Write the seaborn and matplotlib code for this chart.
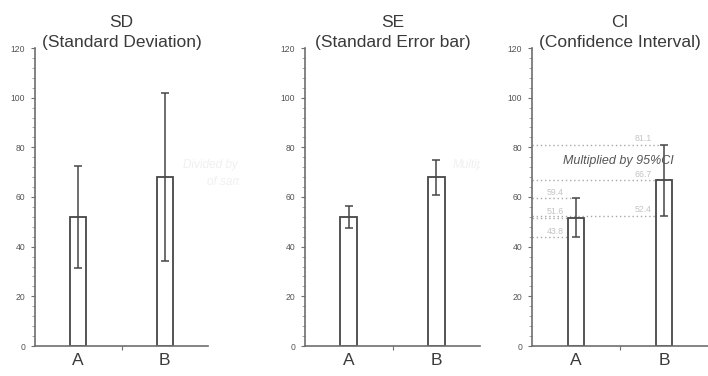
import numpy as np
import pandas as pd
import matplotlib
matplotlib.use("Agg")
import matplotlib.pyplot as plt
from matplotlib.ticker import MultipleLocator
from matplotlib.transforms import Bbox
import seaborn as sns

# data
categories = ["A", "B"]
means = [52.0, 68.0]
sd_err = [20.6, 33.7]
se_err = [4.3, 7.0]
ci_mean = [51.6, 66.7]
ci_low = [43.8, 52.4]
ci_high = [59.4, 81.1]
titles = ["SD\n(Standard Deviation)", "SE\n(Standard Error bar)", "CI\n(Confidence Interval)"]
ci_note = "Multiplied by 95%CI"

sns.set_theme(style="white")
plt.rcParams["font.family"] = ["Liberation Sans", "DejaVu Sans"]

EDGE = "#474747"
AXIS = "#6e6e6e"
TXT = "#3a3a3a"

fig = plt.figure(figsize=(7.08, 3.76), dpi=100)
boxes = [
    [35 / 708, 30 / 376, 173 / 708, 298 / 376],
    [305 / 708, 30 / 376, 175 / 708, 298 / 376],
    [532 / 708, 30 / 376, 176 / 708, 298 / 376],
]


def style_axis(ax, title):
    ax.set_xlim(-0.5, 1.5)
    ax.set_ylim(0, 120)
    sns.despine(ax=ax)
    for side in ["left", "bottom"]:
        ax.spines[side].set_color(AXIS)
        ax.spines[side].set_linewidth(1.2)
    ax.yaxis.set_major_locator(MultipleLocator(20))
    ax.yaxis.set_minor_locator(MultipleLocator(4))
    ax.tick_params(axis="y", which="major", direction="out", length=3, width=0.8,
                   color=AXIS, labelsize=6.2, labelcolor="#555555", pad=4, left=True)
    ax.tick_params(axis="y", which="minor", direction="out", length=2, width=0.6,
                   color="#999999", left=True)
    ax.set_xticks([0, 1])
    ax.set_xticklabels(categories)
    ax.set_xticks([0.5], minor=True)
    ax.tick_params(axis="x", which="major", length=0, labelsize=12.5,
                   labelcolor=TXT, pad=5)
    ax.tick_params(axis="x", which="minor", direction="out", length=3, width=0.8,
                   color=AXIS, bottom=True)
    ax.set_xlabel("")
    ax.set_ylabel("")
    ax.set_title(title, fontsize=12.5, color=TXT, pad=1.0, linespacing=1.4)


def draw_bars(ax, vals, err):
    sns.barplot(x=categories, y=vals, ax=ax, color="white", saturation=1,
                edgecolor=EDGE, linewidth=1.3, width=0.19, errorbar=None)
    ax.errorbar(np.arange(len(categories)), vals, yerr=err, fmt="none",
                ecolor=EDGE, elinewidth=1.1, capsize=2.8, capthick=1.1)


# SD panel
ax1 = fig.add_axes(boxes[0])
draw_bars(ax1, means, sd_err)
style_axis(ax1, titles[0])

# SE panel
ax2 = fig.add_axes(boxes[1])
draw_bars(ax2, means, se_err)
style_axis(ax2, titles[1])

# CI panel
ax3 = fig.add_axes(boxes[2])
ci_df = pd.DataFrame({"cat": categories, "mean": ci_mean, "low": ci_low, "high": ci_high})
yerr = np.vstack([ci_df["mean"] - ci_df["low"], ci_df["high"] - ci_df["mean"]])
draw_bars(ax3, ci_df["mean"], yerr)
style_axis(ax3, titles[2])

for i, row in ci_df.iterrows():
    for v in [row["high"], row["mean"], row["low"]]:
        ax3.plot([-0.5, i - 0.02], [v, v], linestyle=(0, (1, 2)), color="#a8a8a8",
                 linewidth=1.0, zorder=0.5)
        ax3.text(i - 0.14, v + 0.6, f"{v:.1f}", ha="right", va="bottom",
                 fontsize=6.3, color="#c4c4c4")
ax3.text(0.48, 74.5, ci_note, ha="center", va="center", fontsize=9,
         style="italic", color="#555555")

# faint leftover labels cropped at the panel borders
clip1 = Bbox.from_extents(0, 0, 240, 376)
clip2 = Bbox.from_extents(240, 0, 480, 376)
t = fig.text(183 / 708, 1 - 165 / 376, "Divided by n", fontsize=8.5, style="italic",
             color="#f0f0f0", va="center", ha="left")
t.set_clip_box(clip1)
t.set_clip_on(True)
t = fig.text(207 / 708, 1 - 182 / 376, "of sample", fontsize=8.5, style="italic",
             color="#f0f0f0", va="center", ha="left")
t.set_clip_box(clip1)
t.set_clip_on(True)
t = fig.text(453 / 708, 1 - 165 / 376, "Multiplied", fontsize=8.5, style="italic",
             color="#f0f0f0", va="center", ha="left")
t.set_clip_box(clip2)
t.set_clip_on(True)

fig.savefig("out.png", dpi=100, facecolor="white")
